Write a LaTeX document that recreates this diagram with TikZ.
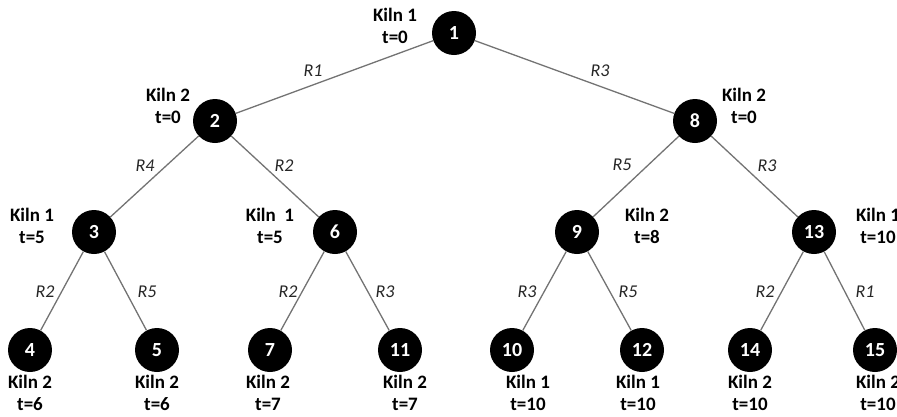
\documentclass[tikz,border=0pt]{standalone}
\usepackage{fontspec}
\setmainfont{Carlito}
\begin{document}
\begin{tikzpicture}[x=1pt,y=-1pt,
  state/.style={circle, fill=black, minimum size=44pt, inner sep=0pt, text=white,
                font=\fontsize{20}{20}\selectfont\bfseries},
  info/.style={align=center, font=\fontsize{19}{22}\selectfont\bfseries},
  rule/.style={font=\fontsize{18}{18}\selectfont\itshape, text=black!85},
  link/.style={draw=black!55, line width=1.3pt}]
\useasboundingbox (0,0) rectangle (897,416);

% tree nodes
\node[state] (n1)  at (454,33)  {1};
\node[state] (n2)  at (215,121) {2};
\node[state] (n8)  at (695,121) {8};
\node[state] (n3)  at (94,232)  {3};
\node[state] (n6)  at (335,232) {6};
\node[state] (n9)  at (577,232) {9};
\node[state] (n13) at (814,232) {13};
\node[state] (n4)  at (30,350)  {4};
\node[state] (n5)  at (157,350) {5};
\node[state] (n7)  at (270,350) {7};
\node[state] (n11) at (400,350) {11};
\node[state] (n10) at (512,350) {10};
\node[state] (n12) at (642,350) {12};
\node[state] (n14) at (750,350) {14};
\node[state] (n15) at (875,350) {15};

% branches
\draw[link] (n1) -- (n2);
\draw[link] (n1) -- (n8);
\draw[link] (n2) -- (n3);
\draw[link] (n2) -- (n6);
\draw[link] (n8) -- (n9);
\draw[link] (n8) -- (n13);
\draw[link] (n3) -- (n4);
\draw[link] (n3) -- (n5);
\draw[link] (n6) -- (n7);
\draw[link] (n6) -- (n11);
\draw[link] (n9) -- (n10);
\draw[link] (n9) -- (n12);
\draw[link] (n13) -- (n14);
\draw[link] (n13) -- (n15);

% branch labels
\node[rule] (r12)   at (313,71)  {R1};
\node[rule] (r18)   at (600,71)  {R3};
\node[rule] (r23)   at (145,166) {R4};
\node[rule] (r26)   at (284,166) {R2};
\node[rule] (r89)   at (622,165) {R5};
\node[rule] (r813)  at (767,166) {R3};
\node[rule] (r34)   at (45,292)  {R2};
\node[rule] (r35)   at (147,292) {R5};
\node[rule] (r67)   at (288,292) {R2};
\node[rule] (r611)  at (385,292) {R3};
\node[rule] (r910)  at (527,292) {R3};
\node[rule] (r912)  at (628,292) {R5};
\node[rule] (r1314) at (765,292) {R2};
\node[rule] (r1315) at (865,292) {R1};

% kiln and time annotations
\node[info] (k1)  at (395,26)  {Kiln 1\\t=0};
\node[info] (k2)  at (168,106) {Kiln 2\\t=0};
\node[info] (k8)  at (744,106) {Kiln 2\\t=0};
\node[info] (k3)  at (32,226)  {Kiln 1\\t=5};
\node[info] (k6)  at (270,226) {Kiln\ \ 1\\t=5};
\node[info] (k9)  at (647,226) {Kiln 2\\t=8};
\node[info] (k13) at (878,226) {Kiln 1\\t=10};
\node[info] (k4)  at (30,393)  {Kiln 2\\t=6};
\node[info] (k5)  at (157,393) {Kiln 2\\t=6};
\node[info] (k7)  at (268,393) {Kiln 2\\t=7};
\node[info] (k11) at (405,393) {Kiln 2\\t=7};
\node[info] (k10) at (528,393) {Kiln 1\\t=10};
\node[info] (k12) at (638,393) {Kiln 1\\t=10};
\node[info] (k14) at (750,393) {Kiln 2\\t=10};
\node[info] (k15) at (878,393) {Kiln 2\\t=10};
\end{tikzpicture}
\end{document}
